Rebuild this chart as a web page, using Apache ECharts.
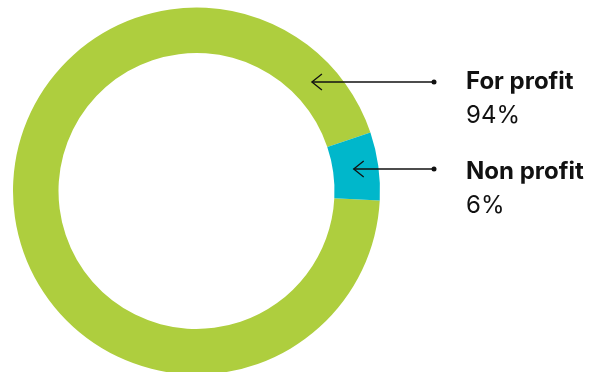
<!DOCTYPE html>
<html>
<head>
<meta charset="utf-8">
<script src="https://cdn.jsdelivr.net/npm/echarts@6/dist/echarts.min.js"></script>
<style>
  html, body { margin: 0; padding: 0; background: #fff; }
  #chart { width: 597px; height: 372px; }
</style>
</head>
<body>
<div id="chart"></div>
<script>
// data
const categories = ['For profit', 'Non profit'];
const shares = [94, 6];
const colors = ['#AECE3E', '#00B7CB'];

// layout
const CX = 196.5, CY = 191;
const R_IN = 138, R_OUT = 183.5;
const LABEL_X = 466;
const arrowY = [82, 169];
const labelMid = [81.5, 171.5];
const DOT_X = 434;
const FONT = 'Inter, "Noto Sans", sans-serif';

const chart = echarts.init(document.getElementById('chart'), null, { renderer: 'canvas' });

chart.setOption({
  backgroundColor: '#fff',
  animation: false,
  series: [{
    type: 'pie',
    center: [CX, CY],
    radius: [R_IN, R_OUT],
    startAngle: 357,
    clockwise: true,
    silent: true,
    itemStyle: { borderWidth: 0 },
    label: { show: false },
    labelLine: { show: false },
    data: categories.map((name, i) => ({
      name, value: shares[i], itemStyle: { color: colors[i] }
    }))
  }]
});

// labels + leader arrows: from a dot near the labels to the middle of the ring
const rMid = (R_IN + R_OUT) / 2 - 2;
const graphics = [];
categories.forEach((name, i) => {
  const y = arrowY[i];
  const dy = y - CY;
  const tipX = CX + Math.sqrt(rMid * rMid - dy * dy);
  const st = { stroke: '#111', lineWidth: 1.3 };
  graphics.push(
    { type: 'line', z: 10, shape: { x1: tipX, y1: y, x2: DOT_X, y2: y }, style: st },
    { type: 'polyline', z: 10, shape: { points: [[tipX + 10, y - 8], [tipX, y], [tipX + 10, y + 8]] }, style: Object.assign({ fill: null }, st) },
    { type: 'circle', z: 10, shape: { cx: DOT_X, cy: y, r: 2.5 }, style: { fill: '#111' } },
    {
      type: 'text', z: 10, x: LABEL_X, y: labelMid[i] - 17,
      style: {
        text: `{n|${name}}\n{v|${shares[i]}%}`,
        rich: {
          n: { fontFamily: FONT, fontWeight: 'bold', fontSize: 24, lineHeight: 34, fill: '#111' },
          v: { fontFamily: FONT, fontWeight: 'normal', fontSize: 24, lineHeight: 34, fill: '#111' }
        },
        textAlign: 'left', textVerticalAlign: 'top'
      }
    }
  );
});
chart.setOption({ graphic: graphics });
</script>
</body>
</html>
